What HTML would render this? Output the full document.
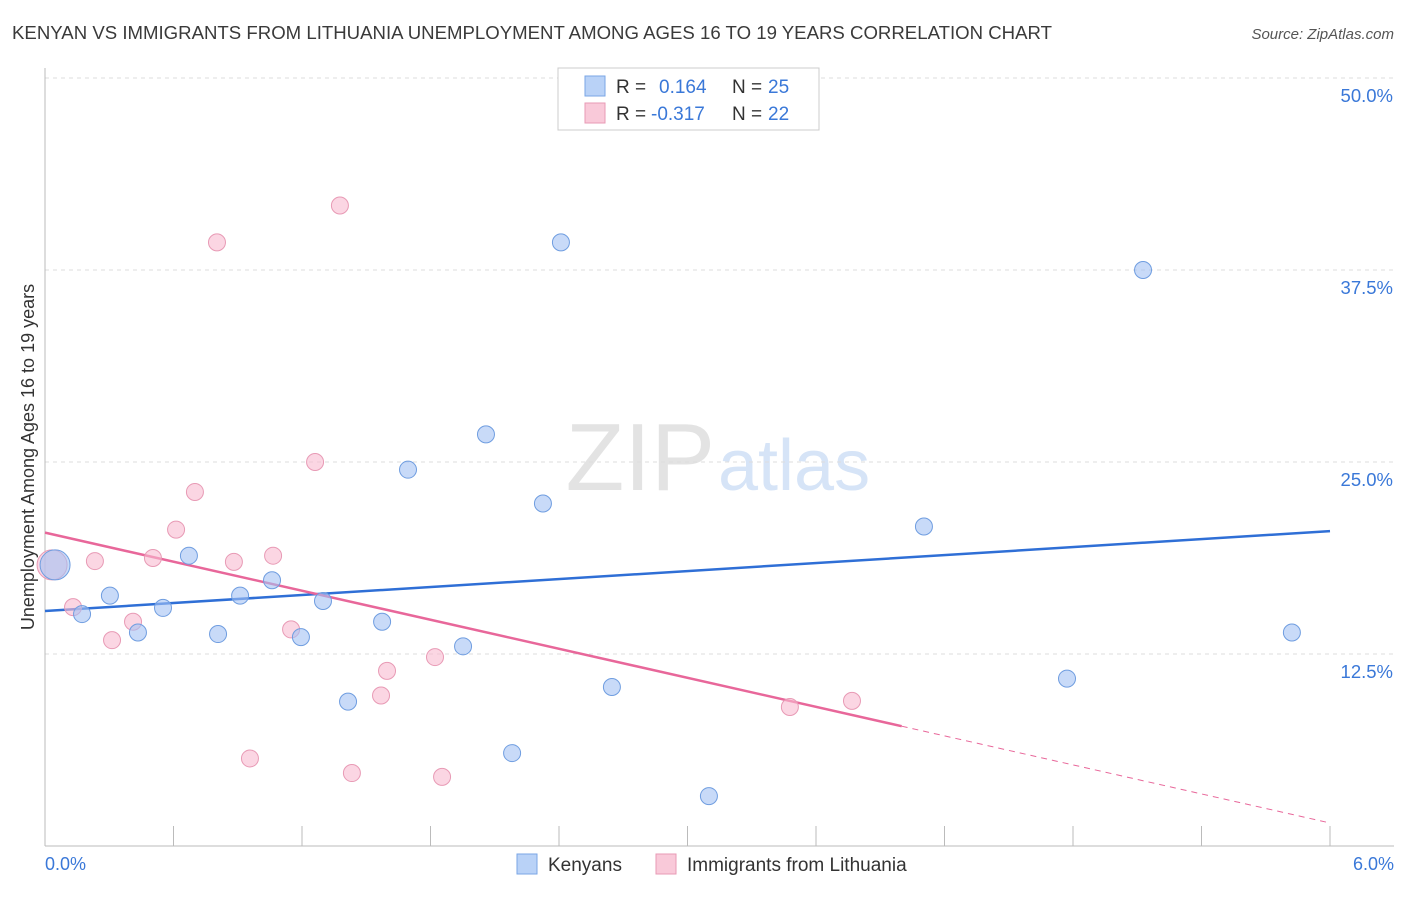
<!DOCTYPE html>
<html><head><meta charset="utf-8"><style>
body{margin:0;background:#fff;font-family:"Liberation Sans",sans-serif;}
svg text{font-family:"Liberation Sans",sans-serif;}
</style></head><body>
<svg id="chart" width="1406" height="892" xmlns="http://www.w3.org/2000/svg">
<text x="12" y="39" font-size="18" fill="#3a3a3a" textLength="1040" lengthAdjust="spacingAndGlyphs">KENYAN VS IMMIGRANTS FROM LITHUANIA UNEMPLOYMENT AMONG AGES 16 TO 19 YEARS CORRELATION CHART</text>
<text x="1394" y="39" font-size="15" fill="#555" text-anchor="end" font-style="italic">Source: ZipAtlas.com</text>
<text x="715" y="490" font-size="96" fill="#e3e3e3" text-anchor="end" font-family="Liberation Serif">ZIP</text>
<text x="718" y="490" font-size="72" fill="#d6e4f7">atlas</text>
<text transform="translate(34,457) rotate(-90)" font-size="18" fill="#333" text-anchor="middle">Unemployment Among Ages 16 to 19 years</text>
<g id="grid"></g><g id="lines"></g><g id="points"></g>
<g>
<rect x="558" y="68" width="261" height="62" fill="#fff" stroke="#ccc"/>
<rect x="585" y="76" width="20" height="20" fill="#b9d2f7" stroke="#7aa6e6"/>
<rect x="585" y="103" width="20" height="20" fill="#f9c9d9" stroke="#e89ab5"/>
<text x="616" y="93" font-size="19" fill="#333">R =</text><text x="659" y="93" font-size="19" fill="#3a78d8">0.164</text>
<text x="732" y="93" font-size="19" fill="#333">N =</text><text x="768" y="93" font-size="19" fill="#3a78d8">25</text>
<text x="616" y="120" font-size="19" fill="#333">R =</text><text x="651" y="120" font-size="19" fill="#3a78d8">-0.317</text>
<text x="732" y="120" font-size="19" fill="#333">N =</text><text x="768" y="120" font-size="19" fill="#3a78d8">22</text>
</g>
<g>
<rect x="517" y="854" width="20" height="20" fill="#b9d2f7" stroke="#7aa6e6"/>
<text x="548" y="871" font-size="19" fill="#333">Kenyans</text>
<rect x="656" y="854" width="20" height="20" fill="#f9c9d9" stroke="#e89ab5"/>
<text x="687" y="871" font-size="19" fill="#333">Immigrants from Lithuania</text>
</g>
<text x="45" y="870" font-size="18" fill="#3a78d8">0.0%</text>
<text x="1394" y="870" font-size="18" fill="#3a78d8" text-anchor="end">6.0%</text>
</svg>
<script>
const yTicks=[12.5,25,37.5,50];
const yTickLabels=["12.5%","25.0%","37.5%","50.0%"];
const xTicks=[0,0.6,1.2,1.8,2.4,3.0,3.6,4.2,4.8,5.4,6.0];
const kenX=[0.047,0.173,0.303,0.434,0.551,0.672,0.808,0.911,1.06,1.195,1.298,1.415,1.574,1.695,1.952,2.059,2.181,2.325,2.409,2.647,3.1,4.104,4.772,5.127,5.822];
const kenY=[18.3,15.1,16.3,13.9,15.5,18.9,13.8,16.3,17.3,13.6,15.95,9.4,14.6,24.5,13.0,26.8,6.05,22.3,39.3,10.35,3.25,20.8,10.9,37.5,13.9];
const litX=[0.033,0.131,0.233,0.313,0.411,0.504,0.612,0.700,0.803,0.882,0.957,1.065,1.149,1.261,1.377,1.433,1.569,1.597,1.821,1.854,3.478,3.768];
const litY=[18.3,15.55,18.55,13.4,14.6,18.75,20.6,23.05,39.3,18.5,5.7,18.9,14.1,25.0,41.7,4.75,9.8,11.4,12.3,4.5,9.05,9.45];
const kenLine=[15.3,20.5];
const litLine=[20.4,1.5];
const litSolidEnd=4.0;
const NS="http://www.w3.org/2000/svg";
const X=v=>45+v/6*1285, Y=v=>846-v/50*768;
function mk(t,a,p){const e=document.createElementNS(NS,t);for(const k in a)e.setAttribute(k,a[k]);p.appendChild(e);return e;}
const g=document.getElementById('grid');
yTicks.forEach((t,i)=>{
 const l=mk('line',{x1:45,x2:1394,y1:Y(t),y2:Y(t),stroke:'#ddd','stroke-dasharray':'4,4'},g);
 
 
 const tx=mk('text',{x:1393,y:Y(t)+24,'font-size':18.5,fill:'#3a78d8','text-anchor':'end'},g);
 tx.textContent=yTickLabels[i];
 
 
});
const ax=mk('line',{x1:45,x2:1394,y1:846,y2:846,stroke:'#bbb'},g);


const ay=mk('line',{x1:45,x2:45,y1:68,y2:846,stroke:'#bbb'},g);


xTicks.forEach(t=>{
 const l=mk('line',{x1:X(t),x2:X(t),y1:826,y2:846,stroke:'#bbb'},g);
 
 
});
const L=document.getElementById('lines');
const bl=mk('line',{x1:X(0),y1:Y(kenLine[0]),x2:X(6),y2:Y(kenLine[1]),stroke:'#2f6fd6','stroke-width':2.5},L);


const ly=x=>litLine[0]+(litLine[1]-litLine[0])*x/6;
const pl=mk('line',{x1:X(0),y1:Y(ly(0)),x2:X(litSolidEnd),y2:Y(ly(litSolidEnd)),stroke:'#e8679a','stroke-width':2.5},L);


const pd=mk('line',{x1:X(litSolidEnd),y1:Y(ly(litSolidEnd)),x2:X(6),y2:Y(ly(6)),stroke:'#e8679a','stroke-width':1,'stroke-dasharray':'6,5'},L);


const P=document.getElementById('points');
function pts(xs,ys,fill,stroke,name){xs.forEach((x,i)=>{
 const c=mk('circle',{cx:X(x),cy:Y(ys[i]),r:i==0?15:8.5,fill:fill,stroke:stroke,'stroke-width':1},P);
 
 
});}
pts(litX,litY,'rgba(248,187,208,0.6)','#e89ab5','lithuania-point');
pts(kenX,kenY,'rgba(164,194,244,0.6)','#6f9de0','kenyans-point');
</script>
</body></html>
